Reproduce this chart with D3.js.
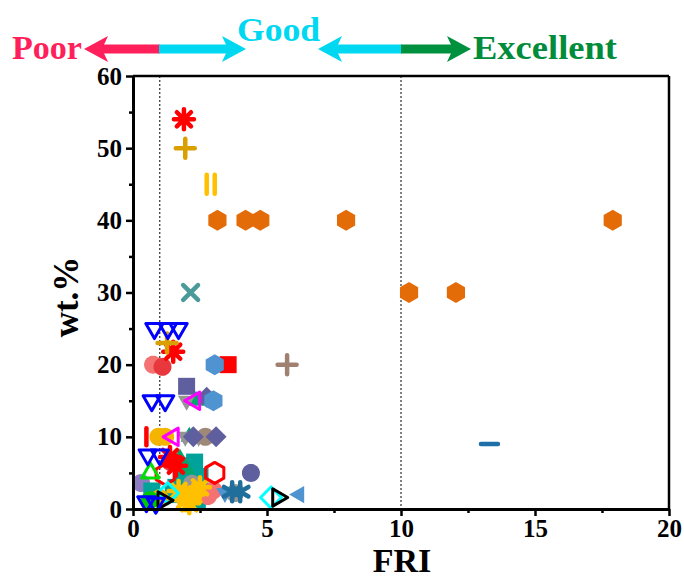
<!DOCTYPE html>
<html>
<head>
<meta charset="utf-8">
<script src="https://cdn.jsdelivr.net/npm/d3@7"></script>
<style>
body { margin: 0; background: #fff; }
text { font-family: "Liberation Serif", "Times New Roman", serif; font-weight: bold; }
</style>
</head>
<body>
<svg id="chart"></svg>
<script>
var width = 684;
var height = 579;

// tick labels
var xTicks = [0, 5, 10, 15, 20];
var xMinor = [2.5, 7.5, 12.5, 17.5];
var yTicks = [0, 10, 20, 30, 40, 50, 60];
var yMinor = [5, 15, 25, 35, 45, 55];
var guideLines = [1, 10];

// series, [FRI, wt.%]
var redAsterisk = [[1.9, 54], [1.5, 21.8], [1.38, 7.2], [1.6, 6]];
var goldPlus = [[1.95, 50], [1.27, 23]];
var yellowBars = [[2.9, 45]];
var orangeHex = [[3.15, 40], [4.2, 40], [4.75, 40], [7.95, 40], [17.9, 40], [10.3, 30], [12.05, 30]];
var tealTimes = [[2.15, 30]];
var brownPlus = [[5.75, 20]];
var blueDash = [[13.3, 9]];
var blueTriDown = [[0.8, 25], [1.3, 25], [1.7, 25], [0.7, 15], [1.2, 15], [0.55, 7.5], [1.0, 7.5], [0.5, 1], [0.85, 0.8]];
var redSquare = [[3.55, 20]];
var blueHex = [[3.05, 20], [3.0, 15]];
var salmonCircle = [[0.75, 20], [3.0, 2.6], [2.6, 2.2], [2.8, 1.8]];
var redCircle = [[1.1, 19.7], [1.4, 6.5]];
var slateSquare = [[2.0, 17]];
var slateDiamond = [[2.75, 15.5], [2.25, 10], [3.1, 10]];
var slateCircle = [[4.4, 5]];
var grayTriDown = [[2.0, 15], [1.95, 10], [2.45, 10]];
var grayCircle = [[3.8, 2.2], [2.2, 3.5]];
var magentaTriLeft = [[2.3, 15], [1.5, 10]];
var greenTri = [[2.35, 15], [2.1, 10], [1.75, 7], [2.0, 5.5]];
var tanCircle = [[2.7, 10]];
var redBar = [[0.5, 10]];
var goldCircle = [[0.95, 10], [1.2, 10], [1.0, 1.5]];
var redHexOpen = [[3.05, 5], [1.2, 4.8]];
var greenTriOpen = [[0.65, 5]];
var lavenderCircle = [[0.3, 3.6]];
var yellowStar = [[2.5, 3], [1.95, 1.2], [2.25, 2], [1.7, 2.5], [2.1, 0.8]];
var tealSquare = [[1.8, 5], [2.1, 4], [1.6, 3], [2.3, 6.5], [1.5, 2], [2.5, 4.5], [1.9, 6], [2.4, 1.2], [0.7, 2.5]];
var navyStar = [[3.7, 2.4], [4.0, 2.4]];
var blueTriDownFill = [[3.43, 2.2]];
var greenCircle = [[0.63, 1.2]];
var blackTriRight = [[1.12, 1.2], [5.4, 1.6]];
var cyanDiamond = [[1.3, 2.2], [5.15, 1.6]];
var blueTriLeft = [[6.2, 2]];

var series = [
  { data: orangeHex, shape: "hex", color: "#E36C09", fill: true },
  { data: lavenderCircle, shape: "circle", color: "#8E7CC3", fill: true },
  { data: tealSquare, shape: "square", color: "#00A39A", fill: true },
  { data: salmonCircle, shape: "circle", color: "#F47272", fill: true },
  { data: redCircle, shape: "circle", color: "#E8383D", fill: true },
  { data: goldCircle, shape: "circle", color: "#F5B400", fill: true },
  { data: greenTri, shape: "triUp", color: "#00A86B", fill: true },
  { data: grayTriDown, shape: "triDown", color: "#959595", fill: true },
  { data: grayCircle, shape: "circle", color: "#959595", fill: true },
  { data: tanCircle, shape: "circle", color: "#A08878", fill: true },
  { data: slateSquare, shape: "square", color: "#5F5F9F", fill: true },
  { data: slateDiamond, shape: "diamond", color: "#5F5F9F", fill: true },
  { data: slateCircle, shape: "circle", color: "#5F5F9F", fill: true },
  { data: redSquare, shape: "square", color: "#FF0000", fill: true },
  { data: blueHex, shape: "hex", color: "#4F93D0", fill: true },
  { data: blueTriDownFill, shape: "triDown", color: "#4F93D0", fill: true },
  { data: blueTriLeft, shape: "triLeft", color: "#4F93D0", fill: true },
  { data: greenCircle, shape: "circle", color: "#00C800", fill: true },
  { data: yellowStar, shape: "asterisk", color: "#FFC000", fill: true },
  { data: navyStar, shape: "wye", color: "#1F6E9C", fill: true },
  { data: redAsterisk, shape: "asterisk", color: "#FF0000", fill: true },
  { data: goldPlus, shape: "plus", color: "#D9A000", fill: true },
  { data: yellowBars, shape: "bars", color: "#FFC000", fill: true },
  { data: tealTimes, shape: "times", color: "#4A9A9A", fill: true },
  { data: brownPlus, shape: "plus", color: "#A08070", fill: true },
  { data: blueDash, shape: "dash", color: "#1F6FA8", fill: true },
  { data: redBar, shape: "vbar", color: "#FF0000", fill: true },
  { data: magentaTriLeft, shape: "triLeft", color: "#FF00FF", fill: false },
  { data: redHexOpen, shape: "hex", color: "#FF0000", fill: false },
  { data: greenTriOpen, shape: "triUp", color: "#00E000", fill: false },
  { data: cyanDiamond, shape: "diamond", color: "#00FFFF", fill: false },
  { data: blackTriRight, shape: "triRight", color: "#000000", fill: false },
  { data: blueTriDown, shape: "triDown", color: "#0000FF", fill: false }
];

var x = d3.scaleLinear().domain([0, 20]).range([133, 669]);
var y = d3.scaleLinear().domain([0, 60]).range([509, 76]);

var svg = d3.select("#chart").attr("width", width).attr("height", height);

function poly(pts) {
  return "M" + pts.map(function (p) { return p[0].toFixed(2) + "," + p[1].toFixed(2); }).join("L") + "Z";
}
function ngon(n, r, start) {
  var pts = [];
  for (var i = 0; i < n; i++) {
    var a = (start + i * 360 / n) * Math.PI / 180;
    pts.push([r * Math.cos(a), r * Math.sin(a)]);
  }
  return poly(pts);
}
function spokes(angles, r) {
  return angles.map(function (deg) {
    var a = deg * Math.PI / 180;
    return "M" + (-r * Math.cos(a)).toFixed(2) + "," + (-r * Math.sin(a)).toFixed(2) +
      "L" + (r * Math.cos(a)).toFixed(2) + "," + (r * Math.sin(a)).toFixed(2);
  }).join("");
}

// stroke-only shapes
var lineShapes = { asterisk: 1, wye: 1, plus: 1, times: 1, bars: 1, dash: 1, vbar: 1 };

function shapePath(s) {
  switch (s) {
    case "hex": return ngon(6, 10.5, -90);
    case "circle": return ngon(40, 9, 0);
    case "square": return poly([[-8.5, -8.5], [8.5, -8.5], [8.5, 8.5], [-8.5, 8.5]]);
    case "diamond": return poly([[0, -10.5], [10.5, 0], [0, 10.5], [-10.5, 0]]);
    case "triUp": return ngon(3, 10, -90);
    case "triDown": return ngon(3, 10, 90);
    case "triLeft": return ngon(3, 10, 180);
    case "triRight": return ngon(3, 10, 0);
    case "asterisk": return spokes([0, 45, 90, 135], 10);
    case "wye": return spokes([90, 30, 150], 9.5);
    case "plus": return spokes([0, 90], 9.5);
    case "times": return spokes([45, 135], 10.5);
    case "dash": return spokes([0], 8.5);
    case "vbar": return spokes([90], 8.5);
    case "bars": return "M-4,-9.5L-4,9.5M4,-9.5L4,9.5";
  }
}

// guide lines
svg.append("g").selectAll("line")
  .data(guideLines)
  .enter()
  .append("line")
  .attr("x1", function (d) { return x(d); })
  .attr("x2", function (d) { return x(d); })
  .attr("y1", y(60))
  .attr("y2", y(0))
  .style("stroke", "#000")
  .style("stroke-width", 1)
  .style("stroke-dasharray", "2,2");

// markers
var marks = svg.append("g");
series.forEach(function (s) {
  var isLine = lineShapes[s.shape];
  marks.append("g").selectAll("path")
    .data(s.data)
    .enter()
    .append("path")
    .attr("transform", function (d) { return "translate(" + x(d[0]) + "," + y(d[1]) + ")"; })
    .attr("d", shapePath(s.shape))
    .style("fill", isLine ? "none" : (s.fill ? s.color : "none"))
    .style("stroke", isLine || !s.fill ? s.color : "none")
    .style("stroke-width", isLine ? 4.5 : 3)
    .style("stroke-linecap", "round")
    .style("stroke-linejoin", "round");
});

// frame
svg.append("line").attr("x1", x(0)).attr("x2", x(20)).attr("y1", y(60)).attr("y2", y(60))
  .style("stroke", "#000").style("stroke-width", 2.5);
svg.append("line").attr("x1", x(20)).attr("x2", x(20)).attr("y1", y(60)).attr("y2", y(0))
  .style("stroke", "#000").style("stroke-width", 2.5);

// axes
svg.append("g").attr("transform", "translate(0," + y(0) + ")")
  .call(d3.axisBottom(x).tickValues(xTicks).tickSize(7).tickSizeOuter(0).tickPadding(3));
svg.append("g").attr("transform", "translate(0," + y(0) + ")")
  .call(d3.axisBottom(x).tickValues(xMinor).tickSize(4).tickSizeOuter(0).tickFormat(""))
  .select(".domain").remove();
svg.append("g").attr("transform", "translate(" + x(0) + ",0)")
  .call(d3.axisLeft(y).tickValues(yTicks).tickSize(7).tickSizeOuter(0).tickPadding(4));
svg.append("g").attr("transform", "translate(" + x(0) + ",0)")
  .call(d3.axisLeft(y).tickValues(yMinor).tickSize(4).tickSizeOuter(0).tickFormat(""))
  .select(".domain").remove();

svg.selectAll(".domain").style("stroke-width", 3);
svg.selectAll(".tick line").style("stroke-width", 2.5);
svg.selectAll(".tick text")
  .style("font-family", "'Liberation Serif', serif")
  .style("font-weight", "bold")
  .style("font-size", "25px")
  .style("fill", "#000");

// axis titles
svg.append("text").attr("x", 402).attr("y", 572).attr("text-anchor", "middle")
  .style("font-size", "34px").text("FRI");
svg.append("text").attr("transform", "translate(78,297) rotate(-90)").attr("text-anchor", "middle")
  .style("font-size", "35px").text("wt.%");

// rating arrows
var pink = "#FF1F5A", cyan = "#00D8F2", green = "#00913E";
var ay = 49;
function head(tip, dir) {
  // dir: -1 points left, 1 points right
  return poly([[tip, ay], [tip - dir * 24, ay - 13], [tip - dir * 18, ay], [tip - dir * 24, ay + 13]]);
}
svg.append("rect").attr("x", 100).attr("y", ay - 4.5).attr("width", 60).attr("height", 9).style("fill", pink);
svg.append("rect").attr("x", 159).attr("y", ay - 4.5).attr("width", 70).attr("height", 9).style("fill", cyan);
svg.append("path").attr("d", head(84, -1)).style("fill", pink);
svg.append("path").attr("d", head(246, 1)).style("fill", cyan);

svg.append("rect").attr("x", 334).attr("y", ay - 4.5).attr("width", 68).attr("height", 9).style("fill", cyan);
svg.append("rect").attr("x", 401).attr("y", ay - 4.5).attr("width", 54).attr("height", 9).style("fill", green);
svg.append("path").attr("d", head(318, -1)).style("fill", cyan);
svg.append("path").attr("d", head(471, 1)).style("fill", green);

svg.append("text").attr("x", 12).attr("y", 59).attr("textLength", 70).attr("lengthAdjust", "spacingAndGlyphs")
  .style("font-size", "33px").style("fill", pink).text("Poor");
svg.append("text").attr("x", 237).attr("y", 41).attr("textLength", 83).attr("lengthAdjust", "spacingAndGlyphs")
  .style("font-size", "34px").style("fill", cyan).text("Good");
svg.append("text").attr("x", 473).attr("y", 59).attr("textLength", 144).attr("lengthAdjust", "spacingAndGlyphs")
  .style("font-size", "33px").style("fill", "#008C3A").text("Excellent");
</script>
</body>
</html>
